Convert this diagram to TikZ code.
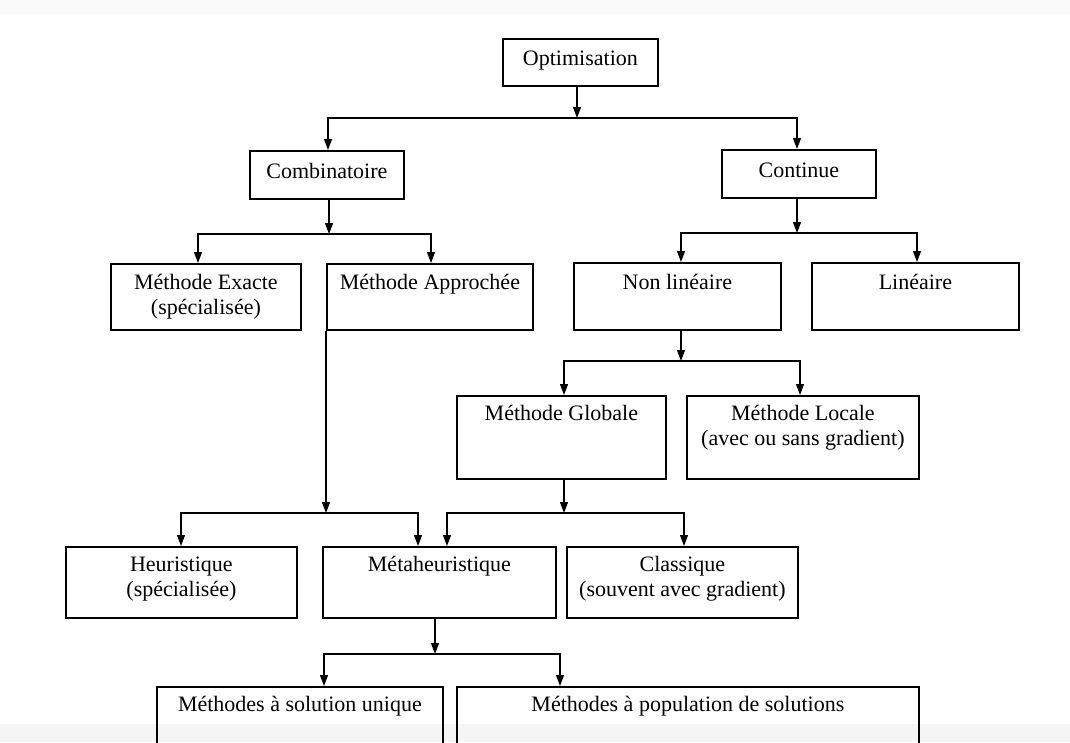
\documentclass[tikz,border=0pt]{standalone}
\usepackage{fontspec}
\setmainfont{Liberation Serif}
\usetikzlibrary{arrows.meta}

% \obox{name}{left}{top}{width}{top to last baseline}{last baseline to bottom}{text}
\newcommand\obox[7]{%
  \node[box, anchor=north west, minimum width=#4pt,
        text height=#5pt, text depth=#6pt] (#1) at (#2,#3) {#7};}

\begin{document}
\begin{tikzpicture}[x=1pt, y=-1pt,
  box/.style={draw, line width=1.8pt, inner sep=0pt, align=center,
              font=\fontsize{22}{25}\selectfont},
  conn/.style={line width=1.2pt, -{Triangle[length=11pt,width=8pt]}},
  bus/.style={line width=1.5pt, line cap=rect}]

  \clip (0,0) rectangle (1070,742);
  \fill[white] (0,0) rectangle (1070,742);
  \fill[black!2] (0,0) rectangle (1070,14);
  \fill[black!4] (0,724) rectangle (1070,742);

  % boxes
  \obox{opt}{502}{38}{155}{27}{20}{Optimisation}
  \obox{comb}{249}{150}{154}{28}{20}{Combinatoire}
  \obox{cont}{721}{149}{154}{28}{20}{Continue}
  \obox{exa}{110}{263}{190}{51}{15}{Méthode Exacte\\(spécialisée)}
  \obox{appr}{326}{263}{206}{26}{40}{Méthode Approchée}
  \obox{nlin}{573}{262}{207}{27}{40}{Non linéaire}
  \obox{lin}{811}{262}{207}{27}{40}{Linéaire}
  \obox{glob}{456}{395}{209}{25}{58}{Méthode Globale}
  \obox{loc}{686}{395}{232}{50}{33}{Méthode Locale\\(avec ou sans gradient)}
  \obox{heur}{65}{546}{231}{50}{21}{Heuristique\\(spécialisée)}
  \obox{meta}{322}{546}{233}{25}{46}{Métaheuristique}
  \obox{clas}{566}{546}{231}{50}{21}{Classique\\(souvent avec gradient)}
  \obox{uniq}{156}{686}{286}{25}{64}{Méthodes à solution unique}
  \obox{pop}{456}{686}{462}{25}{64}{Méthodes à population de solutions}

  % bus coordinates
  \coordinate (s1) at (577,118); \coordinate (l1) at (328,118); \coordinate (r1) at (797,118);
  \coordinate (s2) at (329,234); \coordinate (l2) at (198,234); \coordinate (r2) at (431,234);
  \coordinate (s3) at (797,233); \coordinate (l3) at (681,233); \coordinate (r3) at (917,233);
  \coordinate (s4) at (681,361); \coordinate (l4) at (564,361); \coordinate (r4) at (800,361);
  \coordinate (s5) at (326,513); \coordinate (l5) at (181,513); \coordinate (r5) at (418,513);
  \coordinate (s6) at (564,513); \coordinate (l6) at (447,513); \coordinate (r6) at (684,513);
  \coordinate (s7) at (435,654); \coordinate (l7) at (324,654); \coordinate (r7) at (560,654);

  % Optimisation
  \draw[conn] (opt.south -| s1) -- (s1);
  \draw[bus] (l1) -- (r1);
  \draw[conn] (l1) -- (l1 |- comb.north);
  \draw[conn] (r1) -- (r1 |- cont.north);

  % Combinatoire
  \draw[conn] (comb.south -| s2) -- (s2);
  \draw[bus] (l2) -- (r2);
  \draw[conn] (l2) -- (l2 |- exa.north);
  \draw[conn] (r2) -- (r2 |- appr.north);

  % Continue
  \draw[conn] (cont.south -| s3) -- (s3);
  \draw[bus] (l3) -- (r3);
  \draw[conn] (l3) -- (l3 |- nlin.north);
  \draw[conn] (r3) -- (r3 |- lin.north);

  % Non lineaire
  \draw[conn] (nlin.south -| s4) -- (s4);
  \draw[bus] (l4) -- (r4);
  \draw[conn] (l4) -- (l4 |- glob.north);
  \draw[conn] (r4) -- (r4 |- loc.north);

  % Methode approchee
  \draw[conn] (appr.south west) -- (s5);
  \draw[bus] (l5) -- (r5);
  \draw[conn] (l5) -- (l5 |- heur.north);
  \draw[conn] (r5) -- (r5 |- meta.north);

  % Methode globale
  \draw[conn] (glob.south -| s6) -- (s6);
  \draw[bus] (l6) -- (r6);
  \draw[conn] (l6) -- (l6 |- meta.north);
  \draw[conn] (r6) -- (r6 |- clas.north);

  % Metaheuristique
  \draw[conn] (meta.south -| s7) -- (s7);
  \draw[bus] (l7) -- (r7);
  \draw[conn] (l7) -- (l7 |- uniq.north);
  \draw[conn] (r7) -- (r7 |- pop.north);
\end{tikzpicture}
\end{document}
